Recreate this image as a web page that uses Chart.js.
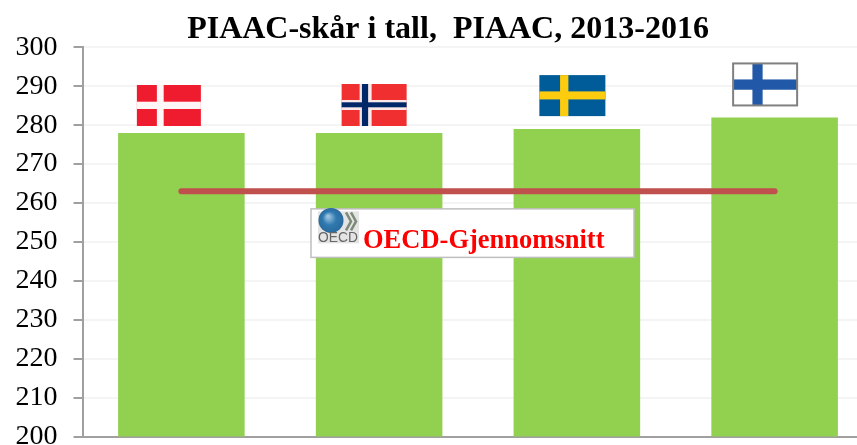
<!DOCTYPE html>
<html>
<head>
<meta charset="utf-8">
<title>PIAAC-skår i tall</title>
<script src="https://cdn.jsdelivr.net/npm/chart.js@4"></script>
<style>
    html, body { margin: 0; padding: 0; background: #fff; overflow: hidden; }
    #wrap { width: 857px; height: 445px; overflow: hidden; }
    canvas { display: block; }
</style>
</head>
<body>
<div id="wrap"><canvas id="piaacChart" width="896" height="480"></canvas></div>
<script>
// Data
let land = ["Danmark", "Norge", "Sverige", "Finland"];
let skar = [278, 278, 279, 282];
let oecdSnitt = [263, 263, 263, 263];
let yTicks = [200, 210, 220, 230, 240, 250, 260, 270, 280, 290, 300];

let tittel = "PIAAC-skår i tall,  PIAAC, 2013-2016";
let boksTekst = "OECD-Gjennomsnitt";

// Flagg: forskyvning fra stolpens midte og avstand over stolpen
let flagg = [
    { dx: -12.5, gap: 7, w: 64, h: 41, bg: "#ee1c2e", kors: [["#fdf6f6", 20, 6.8, 16.7, 7.3]] },
    { dx: -5, gap: 7, w: 65, h: 42, bg: "#f03030", kors: [["#fbe9e9", 18, 12, 16, 10], ["#002868", 20.3, 6.2, 18.3, 5]] },
    { dx: -4.5, gap: 13, w: 66, h: 41, bg: "#005b99", kors: [["#fecc0f", 20.7, 8.3, 16.3, 8]] },
    { dx: -9.5, gap: 12, w: 64, h: 42, bg: "#ffffff", kors: [["#2158a8", 19.3, 10.2, 16, 10.3]], ramme: "#808080" }
];

// Y-aksen er smalere enn etikettene, ellers klippes de
let aksePlass = {
    id: "aksePlass",
    afterLayout(chart) {
        chart.scales.y.left = 0;
    }
};

let tegnFlagg = {
    id: "tegnFlagg",
    afterDatasetsDraw(chart) {
        let c = chart.ctx;
        let meta = chart.getDatasetMeta(0);
        flagg.forEach(function (f, i) {
            let x = meta.data[i].x + f.dx - f.w / 2;
            let y = meta.data[i].y - f.gap - f.h;
            c.fillStyle = f.bg;
            c.fillRect(x, y, f.w, f.h);
            f.kors.forEach(function (k) {
                c.fillStyle = k[0];
                c.fillRect(x + k[1], y, k[2], f.h);
                c.fillRect(x, y + k[3], f.w, k[4]);
            });
            if (f.ramme) {
                c.strokeStyle = f.ramme;
                c.lineWidth = 2;
                c.strokeRect(x, y, f.w, f.h);
            }
        });
    }
};

let tegnBoks = {
    id: "tegnBoks",
    afterDatasetsDraw(chart) {
        let c = chart.ctx;
        let xs = chart.scales.x;
        let bx = (xs.getPixelForValue(0) + xs.getPixelForValue(3)) / 2 - 161.5 - 5.5;
        let by = chart.scales.y.getPixelForValue(258.5);

        c.fillStyle = "#ffffff";
        c.strokeStyle = "#bfbfbf";
        c.lineWidth = 1.5;
        c.fillRect(bx, by, 323, 48.5);
        c.strokeRect(bx, by, 323, 48.5);

        // OECD-logo
        let lx = bx + 7;
        let ly = by + 2.5;
        c.fillStyle = "#e4e4e4";
        c.fillRect(lx, ly, 41, 32);
        let g = c.createRadialGradient(lx + 10, ly + 5, 1, lx + 13, ly + 9, 12.5);
        g.addColorStop(0, "#9cc3e0");
        g.addColorStop(0.5, "#2f7ab0");
        g.addColorStop(1, "#2a6a9e");
        c.fillStyle = g;
        c.beginPath();
        c.arc(lx + 13, ly + 9, 12.5, 0, Math.PI * 2);
        c.fill();
        c.strokeStyle = "#7d8a78";
        c.lineWidth = 2.5;
        [28, 33].forEach(function (sx) {
            c.beginPath();
            c.moveTo(lx + sx, ly + 1);
            c.lineTo(lx + sx + 5, ly + 10);
            c.lineTo(lx + sx, ly + 19);
            c.stroke();
        });
        c.fillStyle = "#666666";
        c.font = "13.8px 'Liberation Sans'";
        c.textAlign = "left";
        c.textBaseline = "alphabetic";
        c.fillText("OECD", lx, ly + 31);

        // Boksens tekst
        c.fillStyle = "#ff0000";
        c.font = "bold 26.5px 'Liberation Serif'";
        c.fillText(boksTekst, bx + 52, by + 39.5);
    }
};

let ctx = document.getElementById("piaacChart").getContext("2d");

let piaacChart = new Chart(ctx, {
    type: "bar",
    data: {
        labels: land,
        datasets: [{
            type: "bar",
            label: "PIAAC-skår",
            data: skar,
            backgroundColor: "#92d050",
            borderWidth: 0,
            categoryPercentage: 1,
            barPercentage: 0.64,
            order: 2
        }, {
            type: "line",
            label: "OECD-Gjennomsnitt",
            data: oecdSnitt,
            borderColor: "#c0504d",
            borderWidth: 6,
            borderCapStyle: "round",
            pointRadius: 0,
            fill: false,
            order: 1
        }]
    },
    plugins: [aksePlass, tegnFlagg, tegnBoks],
    options: {
        responsive: false,
        animation: false,
        layout: { padding: { left: 22.5, right: 22.5, top: 0, bottom: 43.5 } },
        plugins: {
            legend: { display: false },
            tooltip: { enabled: false },
            title: {
                display: true,
                text: tittel,
                color: "#000000",
                font: { family: "'Liberation Serif'", size: 32, weight: "bold" },
                padding: { top: 11, bottom: -2 }
            }
        },
        scales: {
            x: {
                ticks: { display: false },
                grid: { display: false, drawTicks: false },
                border: { color: "#a0a0a0", width: 2 }
            },
            y: {
                min: 200,
                max: 300,
                afterFit(scale) { scale.width = 60; },
                afterBuildTicks(scale) { scale.ticks = yTicks.map(function (v) { return { value: v }; }); },
                ticks: {
                    color: "#000000",
                    font: { family: "'Liberation Serif'", size: 28 },
                    padding: 16
                },
                grid: {
                    color: "#f4f4f4",
                    lineWidth: 2,
                    tickColor: "#a0a0a0",
                    tickLength: 9
                },
                border: { color: "#a0a0a0", width: 2 }
            }
        }
    }
});
</script>
</body>
</html>
